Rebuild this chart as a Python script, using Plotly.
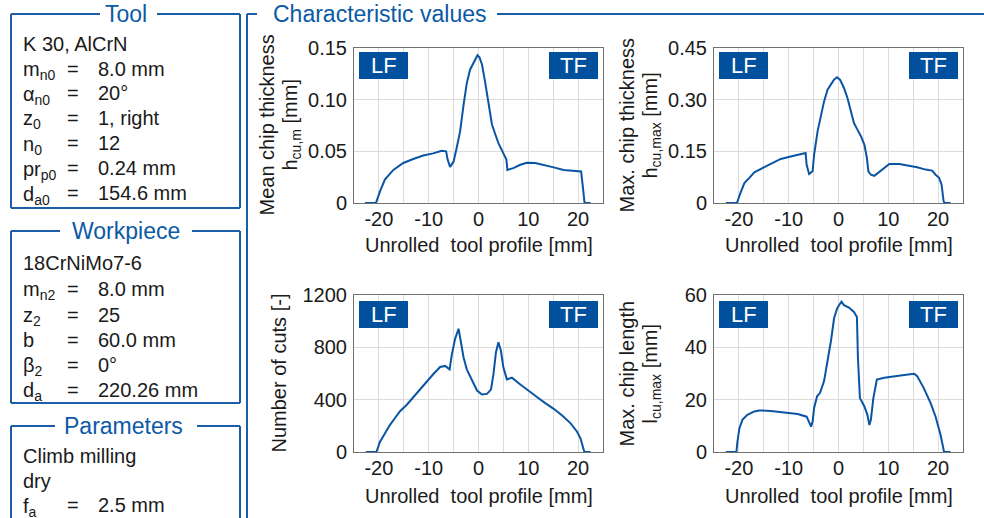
import plotly.graph_objects as go

W, H = 984, 518
FONT = "Liberation Sans, Arial, sans-serif"
BLUE_LINE = "#0A55A3"
BLUE_FRAME = "#1C5DA8"
BLUE_TITLE = "#0C5AA6"
BLUE_BOX = "#00509D"

# ---------------- data ----------------
x_hm = [-22.8, -20.6, -19.8, -18.8, -17.1, -15.1, -13.1, -11.1, -9.1, -7.4,
        -6.5, -6.2, -5.7, -5.0, -4.4, -3.7, -3.0, -2.35, -1.7, -1.0,
        -0.7, -0.2, 0.2, 0.7, 1.3, 2.0, 2.7, 3.4, 4.0, 5.0,
        5.6, 5.8, 7.1, 8.4, 9.7, 11.4, 13.1, 15.1, 17.1, 19.2,
        20.2, 20.6, 20.9, 21.3, 22.5]
y_hm = [0, 0, 0.011, 0.0226, 0.032, 0.0387, 0.0426, 0.046, 0.048, 0.0506,
        0.050, 0.042, 0.035, 0.040, 0.053, 0.069, 0.095, 0.116, 0.129, 0.135,
        0.139, 0.143, 0.141, 0.134, 0.118, 0.097, 0.076, 0.066, 0.058, 0.048,
        0.042, 0.032, 0.034, 0.037, 0.039, 0.0387, 0.037, 0.0345, 0.032, 0.0316,
        0.031, 0.0306, 0.018, 0, 0]

x_hmax = [-22.6, -20.4, -19.7, -18.9, -17.9, -16.9, -14.9, -12.9, -11.6, -9.6,
          -7.6, -6.6, -6.4, -5.9, -5.2, -4.9, -4.2, -3.5, -2.9, -2.2,
          -1.5, -0.9, -0.3, 0.3, 1.1, 1.8, 2.5, 3.1, 3.8, 4.5,
          5.2, 5.7, 6.0, 6.5, 7.2, 8.5, 10.2, 12.2, 13.8, 15.8,
          17.5, 18.8, 19.5, 20.2, 20.7, 21.1, 21.3, 22.5]
y_hmax = [0, 0, 0.029, 0.058, 0.073, 0.089, 0.104, 0.119, 0.128, 0.135,
          0.142, 0.145, 0.111, 0.084, 0.092, 0.140, 0.208, 0.256, 0.295, 0.329,
          0.344, 0.358, 0.365, 0.358, 0.334, 0.305, 0.266, 0.232, 0.213, 0.194,
          0.169, 0.131, 0.092, 0.082, 0.079, 0.094, 0.113, 0.113, 0.109, 0.104,
          0.097, 0.094, 0.082, 0.073, 0.053, 0.005, 0, 0]

x_cuts = [-22.6, -20.5, -19.8, -18.8, -17.8, -16.8, -15.8, -14.4, -13.1, -11.8,
          -10.4, -9.1, -7.7, -6.7, -5.8, -5.4, -4.7, -4.0, -3.7, -3.0,
          -2.35, -1.3, -0.3, 0.7, 1.7, 2.5, 3.0, 3.5, 4.0, 4.5,
          5.0, 5.7, 6.7, 8.4, 10.1, 11.8, 13.4, 15.1, 16.8, 18.5,
          19.8, 20.5, 21.1, 21.3, 22.5]
y_cuts = [0, 0, 77, 142, 206, 258, 310, 361, 418, 477,
          542, 594, 650, 658, 632, 735, 865, 942, 877, 723,
          632, 542, 470, 439, 444, 477, 594, 761, 839, 774,
          645, 555, 568, 516, 465, 418, 374, 330, 279, 219,
          155, 103, 20, 0, 0]

x_len = [-22.6, -20.5, -20.3, -19.9, -19.3, -18.3, -16.9, -15.9, -13.6, -10.9,
         -8.2, -6.4, -6.0, -5.5, -5.2, -4.9, -4.3, -3.7, -2.9, -2.2,
         -1.5, -0.9, -0.3, 0.1, 0.6, 1.1, 2.1, 3.1, 3.7, 3.9,
         4.3, 5.2, 5.8, 6.2, 6.5, 7.0, 7.7, 9.2, 11.2, 13.2,
         15.2, 15.8, 17.1, 18.5, 19.5, 20.5, 21.2, 22.5]
y_len = [0, 0, 3.9, 9.0, 12.3, 14.2, 15.5, 15.9, 15.7, 15.2,
         14.5, 13.5, 11.6, 9.7, 11.6, 16.8, 21.3, 22.6, 27.1, 34.8,
         42.6, 51.0, 54.8, 56.1, 57.4, 56.1, 55.2, 53.5, 51.6, 36.1,
         20.6, 17.4, 14.2, 10.3, 12.3, 20.6, 27.7, 28.4, 29.0, 29.4,
         29.9, 29.0, 24.5, 18.7, 13.5, 6.5, 0, 0]

x_tickvals = [-20, -15, -10, -5, 0, 5, 10, 15, 20]
x_ticktext = ["-20", "", "-10", "", "0", "", "10", "", "20"]

y_ticks_hm = [0, 0.05, 0.10, 0.15]
y_text_hm = ["0", "0.05", "0.10", "0.15"]
y_ticks_hmax = [0, 0.15, 0.30, 0.45]
y_text_hmax = ["0", "0.15", "0.30", "0.45"]
y_ticks_cuts = [0, 400, 800, 1200]
y_text_cuts = ["0", "400", "800", "1200"]
y_ticks_len = [0, 20, 40, 60]
y_text_len = ["0", "20", "40", "60"]

tool_rows = [("K 30, AlCrN", None, None),
             ("m<sub>n0</sub>", "=", "8.0 mm"),
             ("α<sub>n0</sub>", "=", "20°"),
             ("z<sub>0</sub>", "=", "1, right"),
             ("n<sub>0</sub>", "=", "12"),
             ("pr<sub>p0</sub>", "=", "0.24 mm"),
             ("d<sub>a0</sub>", "=", "154.6 mm")]
work_rows = [("18CrNiMo7-6", None, None),
             ("m<sub>n2</sub>", "=", "8.0 mm"),
             ("z<sub>2</sub>", "=", "25"),
             ("b", "=", "60.0 mm"),
             ("β<sub>2</sub>", "=", "0°"),
             ("d<sub>a</sub>", "=", "220.26 mm")]
param_rows = [("Climb milling", None, None),
              ("dry", None, None),
              ("f<sub>a</sub>", "=", "2.5 mm")]

# ---------------- helpers ----------------
def px(x):
    return x / W

def py(y):
    return 1 - y / H

fig = go.Figure()

panels = [
    ("x", "y", x_hm, y_hm, (354, 603), (48, 203), y_ticks_hm, y_text_hm, [0, 0.15]),
    ("x2", "y2", x_hmax, y_hmax, (714, 963), (48, 203), y_ticks_hmax, y_text_hmax, [0, 0.45]),
    ("x3", "y3", x_cuts, y_cuts, (354, 603), (295, 452), y_ticks_cuts, y_text_cuts, [0, 1200]),
    ("x4", "y4", x_len, y_len, (714, 963), (295, 452), y_ticks_len, y_text_len, [0, 60]),
]

layout = dict(
    width=W, height=H, autosize=False,
    margin=dict(l=0, r=0, t=0, b=0, autoexpand=False),
    paper_bgcolor="white", plot_bgcolor="white",
    showlegend=False,
    font=dict(family=FONT, size=20, color="#1a1a1a"),
)

shapes = []
annotations = []

for i, (xa, ya, xd, yd, (x0, x1), (y0, y1), yt, ytt, yr) in enumerate(panels):
    fig.add_trace(go.Scatter(x=xd, y=yd, mode="lines", xaxis=xa, yaxis=ya,
                             line=dict(color=BLUE_LINE, width=2), hoverinfo="skip"))
    xkey = "xaxis" if xa == "x" else "xaxis" + xa[1:]
    ykey = "yaxis" if ya == "y" else "yaxis" + ya[1:]
    layout[xkey] = dict(domain=[px(x0), px(x1)], anchor=ya, range=[-25, 25],
                        tickvals=x_tickvals, ticktext=x_ticktext,
                        showgrid=True, gridcolor="#dcdcdc", gridwidth=1,
                        zeroline=False, showline=True, mirror=True,
                        linecolor="#707070", linewidth=1, ticks="",
                        ticklabelstandoff=-2, automargin=False,
                        tickfont=dict(family=FONT, size=20, color="#1a1a1a"))
    layout[ykey] = dict(domain=[py(y1), py(y0)], anchor=xa, range=yr,
                        tickvals=yt, ticktext=ytt,
                        showgrid=True, gridcolor="#dcdcdc", gridwidth=1,
                        zeroline=False, showline=True, mirror=True,
                        linecolor="#707070", linewidth=1, ticks="",
                        ticklabelstandoff=2, automargin=False,
                        tickfont=dict(family=FONT, size=20, color="#1a1a1a"))
    if y0 < 100:
        by0, by1 = 52, 79
    else:
        by0, by1 = 301, 328
    for bx0, lab in ((x0 + 5, "LF"), (x1 - 54, "TF")):
        shapes.append(dict(type="rect", xref="paper", yref="paper",
                           x0=px(bx0), x1=px(bx0 + 49), y0=py(by1), y1=py(by0),
                           fillcolor=BLUE_BOX, line=dict(width=0), layer="above"))
        annotations.append(dict(xref="paper", yref="paper", x=px(bx0 + 24.5),
                                y=py((by0 + by1) / 2), text=lab, showarrow=False,
                                xanchor="center", yanchor="middle",
                                font=dict(family=FONT, size=22, color="white")))
    xt_y = 245 if y0 < 100 else 495.5
    annotations.append(dict(xref="paper", yref="paper", x=px((x0 + x1) / 2), y=py(xt_y),
                            text="Unrolled  tool profile [mm]", showarrow=False,
                            xanchor="center", yanchor="middle",
                            font=dict(family=FONT, size=20, color="#1a1a1a")))

ytitles = [
    (354, (48, 203), "Mean chip thickness", "h<sub>cu,m</sub> [mm]"),
    (714, (48, 203), "Max. chip thickness", "h<sub>cu,max</sub> [mm]"),
    (354, (295, 452), "Number of cuts [-]", None),
    (714, (295, 452), "Max. chip length", "l<sub>cu,max</sub> [mm]"),
]
for xl, (y0, y1), l1, l2 in ytitles:
    yc = (y0 + y1) / 2
    if l2 is None:
        annotations.append(dict(xref="paper", yref="paper", x=px(xl - 76), y=py(yc),
                                text=l1, textangle=-90, showarrow=False,
                                xanchor="center", yanchor="middle",
                                font=dict(family=FONT, size=20, color="#1a1a1a")))
    else:
        annotations.append(dict(xref="paper", yref="paper", x=px(xl - 88), y=py(yc),
                                text=l1, textangle=-90, showarrow=False,
                                xanchor="center", yanchor="middle",
                                font=dict(family=FONT, size=20, color="#1a1a1a")))
        annotations.append(dict(xref="paper", yref="paper", x=px(xl - 63), y=py(yc),
                                text=l2, textangle=-90, showarrow=False,
                                xanchor="center", yanchor="middle",
                                font=dict(family=FONT, size=20, color="#1a1a1a")))

def hline(xa, xb, y):
    shapes.append(dict(type="line", xref="paper", yref="paper",
                       x0=px(xa), x1=px(xb), y0=py(y), y1=py(y),
                       line=dict(color=BLUE_FRAME, width=2)))

def vline(x, ya, yb):
    shapes.append(dict(type="line", xref="paper", yref="paper",
                       x0=px(x), x1=px(x), y0=py(ya), y1=py(yb),
                       line=dict(color=BLUE_FRAME, width=2)))

def frame(top, bottom, gap, title, tx):
    hline(11, gap[0], top)
    hline(gap[1], 240, top)
    vline(11, top, bottom)
    vline(240, top, bottom)
    if bottom < H:
        hline(11, 240, bottom)
    annotations.append(dict(xref="paper", yref="paper", x=px(tx), y=py(top),
                            text=title, showarrow=False, xanchor="center", yanchor="middle",
                            font=dict(family=FONT, size=23, color=BLUE_TITLE)))

frame(14, 208, (100, 157), "Tool", 126)
frame(231, 403, (60, 192), "Workpiece", 126)
frame(426, 525, (55, 197), "Parameters", 124)

vline(247, 14, 525)
hline(247, 257, 14)
hline(497, 984, 14)
annotations.append(dict(xref="paper", yref="paper", x=px(270.5), y=py(14.3),
                        text="Characteristic values", showarrow=False,
                        xanchor="left", yanchor="middle",
                        font=dict(family=FONT, size=23, color=BLUE_TITLE)))

def rows(data, ys):
    for (name, eq, val), yc in zip(data, ys):
        shift = 2 if "<sub>" in name else 0
        annotations.append(dict(xref="paper", yref="paper", x=px(21), y=py(yc + shift),
                                text=name, showarrow=False, xanchor="left", yanchor="middle",
                                font=dict(family=FONT, size=20, color="#1a1a1a")))
        if eq:
            annotations.append(dict(xref="paper", yref="paper", x=px(73), y=py(yc),
                                    text=eq, showarrow=False, xanchor="center", yanchor="middle",
                                    font=dict(family=FONT, size=20, color="#1a1a1a")))
            annotations.append(dict(xref="paper", yref="paper", x=px(96), y=py(yc),
                                    text=val, showarrow=False, xanchor="left", yanchor="middle",
                                    font=dict(family=FONT, size=20, color="#1a1a1a")))

rows(tool_rows, [44, 68.5, 93.3, 118, 143, 168, 193])
rows(work_rows, [263.3, 288.8, 314.5, 339.7, 364.7, 389.7])
rows(param_rows, [456, 480.7, 505])

layout["shapes"] = shapes
layout["annotations"] = annotations
fig.update_layout(**layout)

fig.write_html(
    "out.html",
    post_script="document.documentElement.style.margin='0';"
                "document.body.style.margin='0';"
                "document.body.style.overflow='hidden';",
)
